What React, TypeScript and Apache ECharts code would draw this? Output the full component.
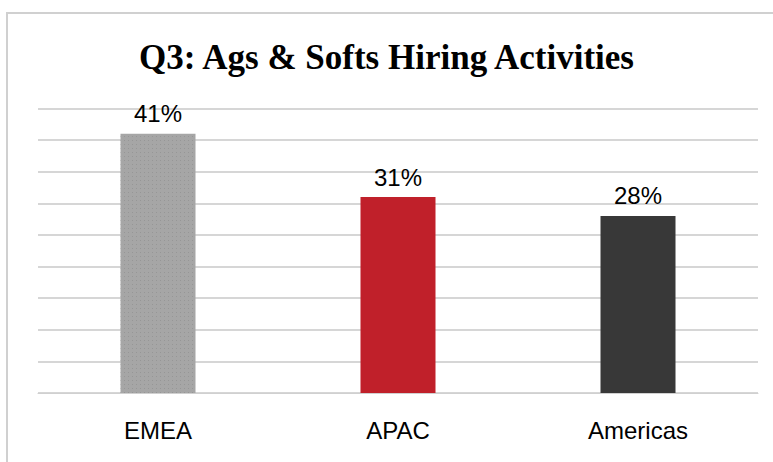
import React, { useEffect, useRef } from "react";
import * as echarts from "echarts";

const categories = ["EMEA", "APAC", "Americas"];
const values = [41, 31, 28];
const barColors = ["#a6a6a6", "#c0202a", "#383838"];
const titleText = "Q3: Ags & Softs Hiring Activities";

export default function App() {
  const ref = useRef<HTMLDivElement>(null);
  useEffect(() => {
    if (!ref.current) return;
    const chart = echarts.init(ref.current, null, { renderer: "svg" });
    chart.setOption({
      animation: false,
      backgroundColor: "#ffffff",
      title: {
        text: titleText,
        left: "center",
        top: 35,
        textStyle: {
          fontFamily: "Liberation Serif",
          fontWeight: "bold",
          fontSize: 35,
          color: "#000000",
        },
      },
      graphic: [
        {
          type: "rect",
          shape: { x: 7, y: 13, width: 800, height: 500 },
          style: { fill: "none", stroke: "#d0d0d0", lineWidth: 2 },
          silent: true,
          z: -1,
        },
      ],
      grid: { left: 38, right: 15, top: 108.5, bottom: 69 },
      xAxis: {
        type: "category",
        data: categories,
        axisLine: { show: true, lineStyle: { color: "#d0d0d0", width: 1 } },
        axisTick: { show: false },
        axisLabel: {
          margin: 25,
          fontFamily: "Liberation Sans",
          fontSize: 24,
          color: "#000000",
        },
      },
      yAxis: {
        type: "value",
        min: 0,
        max: 45,
        interval: 5,
        axisLabel: { show: false },
        axisLine: { show: false },
        axisTick: { show: false },
        splitLine: { lineStyle: { color: "#c8c8c8", width: 1.5 } },
      },
      series: [
        {
          type: "bar",
          barWidth: 75,
          data: values.map((v, i) => ({
            value: v,
            itemStyle:
              i === 0
                ? {
                    color: barColors[i],
                    decal: {
                      symbol: "rect",
                      symbolSize: 1,
                      color: "rgba(130,130,130,0.45)",
                      dashArrayX: [1, 3],
                      dashArrayY: [1, 3],
                      rotation: 0,
                    },
                  }
                : { color: barColors[i] },
          })),
          label: {
            show: true,
            position: "top",
            distance: 8,
            formatter: "{c}%",
            fontFamily: "Liberation Sans",
            fontSize: 24,
            color: "#000000",
          },
        },
      ],
    });
    return () => chart.dispose();
  }, []);
  return (
    <div
      ref={ref}
      style={{ position: "fixed", left: 0, top: 0, width: 773, height: 462 }}
    />
  );
}
